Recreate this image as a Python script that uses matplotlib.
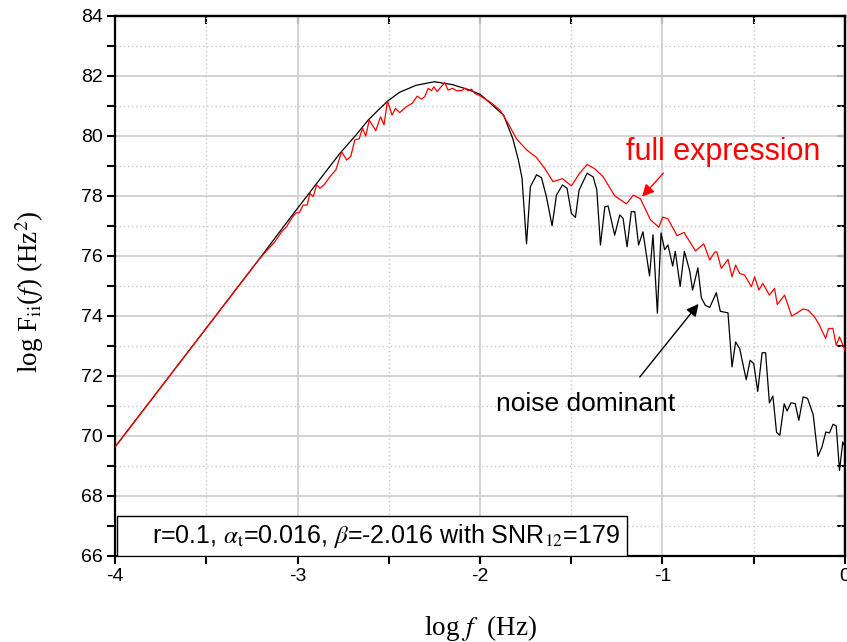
import matplotlib
matplotlib.use('Agg')
import matplotlib.pyplot as plt
from matplotlib.patches import Rectangle
from matplotlib.ticker import MultipleLocator

# ------ dados ------ #
# curva preta (noise dominant)
x_preta = [-4.0, -3.5, -3.21, -3.11, -3.014, -2.895, -2.768, -2.68, -2.613, -2.55,
           -2.503, -2.44, -2.35, -2.25, -2.15, -2.07, -2.0, -1.95, -1.87,
           -1.82, -1.79, -1.77, -1.745, -1.724, -1.69, -1.663, -1.636, -1.605, -1.581,
           -1.548, -1.523, -1.499, -1.477, -1.457, -1.413, -1.38, -1.36, -1.34, -1.316,
           -1.298, -1.262, -1.234, -1.216, -1.194, -1.171, -1.152, -1.131, -1.107, -1.071,
           -1.052, -1.028, -1.008, -0.988, -0.97, -0.944, -0.93, -0.903, -0.88, -0.851,
           -0.835, -0.806, -0.787, -0.765, -0.741, -0.705, -0.683, -0.641, -0.619, -0.599,
           -0.577, -0.541, -0.52, -0.5, -0.478, -0.454, -0.435, -0.414, -0.395, -0.375,
           -0.357, -0.333, -0.317, -0.296, -0.273, -0.253, -0.229, -0.205, -0.174, -0.148,
           -0.126, -0.105, -0.085, -0.065, -0.048, -0.03, -0.012, 0.0]
y_preta = [69.63, 73.59, 75.89, 76.7, 77.47, 78.41, 79.41, 80.02, 80.52, 80.9,
           81.17, 81.45, 81.68, 81.8, 81.7, 81.55, 81.38, 81.12, 80.68,
           79.9, 79.2, 78.6, 76.4, 78.3, 78.7, 78.6, 77.97, 77.0, 78.02,
           78.36, 78.25, 77.41, 77.28, 78.19, 78.75, 78.63, 78.2, 76.36, 77.63,
           77.66, 76.69, 77.36, 77.25, 76.3, 77.47, 77.47, 76.36, 76.8, 75.33,
           76.7, 74.09, 76.76, 76.2, 76.36, 75.66, 76.15, 74.98, 76.15, 75.5,
           74.86, 75.6, 74.6, 74.35, 74.28, 74.77, 74.15, 74.1, 72.3, 73.13,
           72.91, 71.87, 72.52, 72.41, 71.48, 72.77, 72.77, 71.1, 71.33, 70.12,
           70.02, 71.07, 70.83, 71.1, 71.08, 70.52, 71.3, 71.25, 70.7, 69.32,
           69.63, 70.13, 70.1, 70.39, 70.33, 68.85, 69.8, 69.63]

# curva vermelha (full expression)
x_verm = [-4.0, -3.5, -3.21, -3.124, -3.087, -3.06, -3.032, -3.009, -2.991, -2.969,
          -2.947, -2.932, -2.914, -2.895, -2.877, -2.855, -2.823, -2.79, -2.758, -2.731,
          -2.708, -2.686, -2.662, -2.644, -2.626, -2.607, -2.571, -2.545, -2.526, -2.507,
          -2.482, -2.463, -2.44, -2.403, -2.371, -2.344, -2.321, -2.303, -2.284, -2.266,
          -2.253, -2.235, -2.22, -2.193, -2.175, -2.151, -2.129, -2.101, -2.083, -2.065,
          -2.047, -2.028, -2.0, -1.946, -1.891, -1.846, -1.8, -1.745, -1.691, -1.645,
          -1.6, -1.548, -1.499, -1.454, -1.413, -1.371, -1.326, -1.262, -1.198, -1.16,
          -1.121, -1.066, -1.02, -0.999, -0.97, -0.92, -0.882, -0.819, -0.774, -0.741,
          -0.713, -0.702, -0.678, -0.641, -0.619, -0.599, -0.577, -0.55, -0.513, -0.495,
          -0.472, -0.45, -0.414, -0.386, -0.371, -0.331, -0.292, -0.267, -0.23, -0.203,
          -0.167, -0.14, -0.106, -0.09, -0.066, -0.048, -0.03, 0.0]
y_verm = [69.63, 73.59, 75.89, 76.47, 76.8, 76.97, 77.25, 77.43, 77.43, 77.69,
          77.69, 78.08, 77.97, 78.36, 78.25, 78.36, 78.63, 78.86, 79.47, 79.19,
          79.31, 79.86, 79.9, 80.25, 79.99, 80.52, 80.17, 80.63, 80.36, 81.16,
          80.69, 80.91, 80.77, 80.97, 81.08, 81.32, 81.22, 81.3, 81.58, 81.5,
          81.63, 81.47, 81.58, 81.77, 81.52, 81.58, 81.5, 81.5, 81.58, 81.5,
          81.55, 81.41, 81.33, 81.13, 80.86, 80.41, 79.9, 79.53, 79.28, 78.91,
          78.47, 78.57, 78.33, 78.75, 79.04, 78.9, 78.64, 78.0, 77.73, 78.02,
          77.9, 77.2, 76.95, 77.29, 77.23, 76.67, 76.78, 76.16, 76.4, 75.86,
          76.13, 76.13, 75.58, 75.88, 75.3, 75.69, 75.41, 75.36, 74.97, 75.3,
          74.86, 75.08, 74.69, 74.91, 74.38, 74.69, 73.99, 74.08, 74.23, 74.19,
          73.97, 73.69, 73.25, 73.58, 73.58, 73.02, 73.3, 72.86]

texto_legenda = r'r=0.1, $\alpha_{\rm t}$=0.016, $\beta$=-2.016 with SNR$_{12}$=179'

#------Configurações gerais------#
plt.rcParams['font.family'] = 'Liberation Sans'
plt.rcParams['mathtext.fontset'] = 'stix'
plt.rcParams['axes.unicode_minus'] = False

fig = plt.figure(figsize=(8.47, 6.42), dpi=100)
ax = fig.add_axes([0.1358, 0.134, 0.8618, 0.8416])

# grade principal e secundária
ax.xaxis.set_major_locator(MultipleLocator(1))
ax.xaxis.set_minor_locator(MultipleLocator(0.5))
ax.yaxis.set_major_locator(MultipleLocator(2))
ax.yaxis.set_minor_locator(MultipleLocator(1))
ax.grid(which='major', color='#d0d0d0', linewidth=1.3, linestyle='-')
ax.grid(which='minor', color='#c8c8c8', linewidth=1.0, linestyle=(0, (1, 2)))
ax.set_axisbelow(True)

# curvas
ax.plot(x_preta, y_preta, color='black', linewidth=0.9, zorder=3)
ax.plot(x_verm, y_verm, color='red', linewidth=0.9, zorder=4)

ax.set_xlim(-4, 0)
ax.set_ylim(66, 84)

# ticks
ax.tick_params(which='both', direction='out', length=5.5, width=1.5,
               labelsize=14, top=False, right=False)
for s in ax.spines.values():
    s.set_linewidth(1.6)

topo = ax.secondary_xaxis('top')
topo.xaxis.set_major_locator(MultipleLocator(0.5))
topo.tick_params(direction='in', length=5.5, width=1.5, labeltop=False)
topo.spines['top'].set_linewidth(1.6)
direita = ax.secondary_yaxis('right')
direita.yaxis.set_major_locator(MultipleLocator(1))
direita.tick_params(direction='in', length=5.5, width=1.5, labelright=False)
direita.spines['right'].set_linewidth(1.6)

# rótulos dos eixos
ax.set_xlabel(r'log $f$  (Hz)', fontsize=19.5, family='Liberation Serif')
ax.set_ylabel(r'log F$_{\rm ii}$($f$) (Hz$^2$)', fontsize=19.5,
              family='Liberation Serif')
ax.xaxis.set_label_coords(0.5, -0.105)
ax.yaxis.set_label_coords(-0.095, 0.49)

# anotações
ax.text(-0.67, 79.46, 'full expression', color='red', fontsize=22,
        ha='center', va='center', zorder=6)
ax.annotate('', xy=(-1.122, 77.9), xytext=(-0.985, 78.82),
            arrowprops=dict(arrowstyle='-|>', color='red', lw=1.0,
                            mutation_scale=18), zorder=6)
ax.text(-1.423, 71.06, 'noise dominant', color='black', fontsize=19,
        ha='center', va='center', zorder=6)
ax.annotate('', xy=(-0.793, 74.47), xytext=(-1.134, 71.89),
            arrowprops=dict(arrowstyle='-|>', color='black', lw=1.0,
                            mutation_scale=18), zorder=6)

# caixa da legenda
caixa = Rectangle((0.003, 0.0), 0.699, 0.074, transform=ax.transAxes,
                  facecolor='white', edgecolor='black', linewidth=1.0, zorder=7)
ax.add_patch(caixa)
ax.text(0.051, 0.037, texto_legenda, transform=ax.transAxes, fontsize=18,
        ha='left', va='center', zorder=8)

fig.savefig('out.png', dpi=100)
